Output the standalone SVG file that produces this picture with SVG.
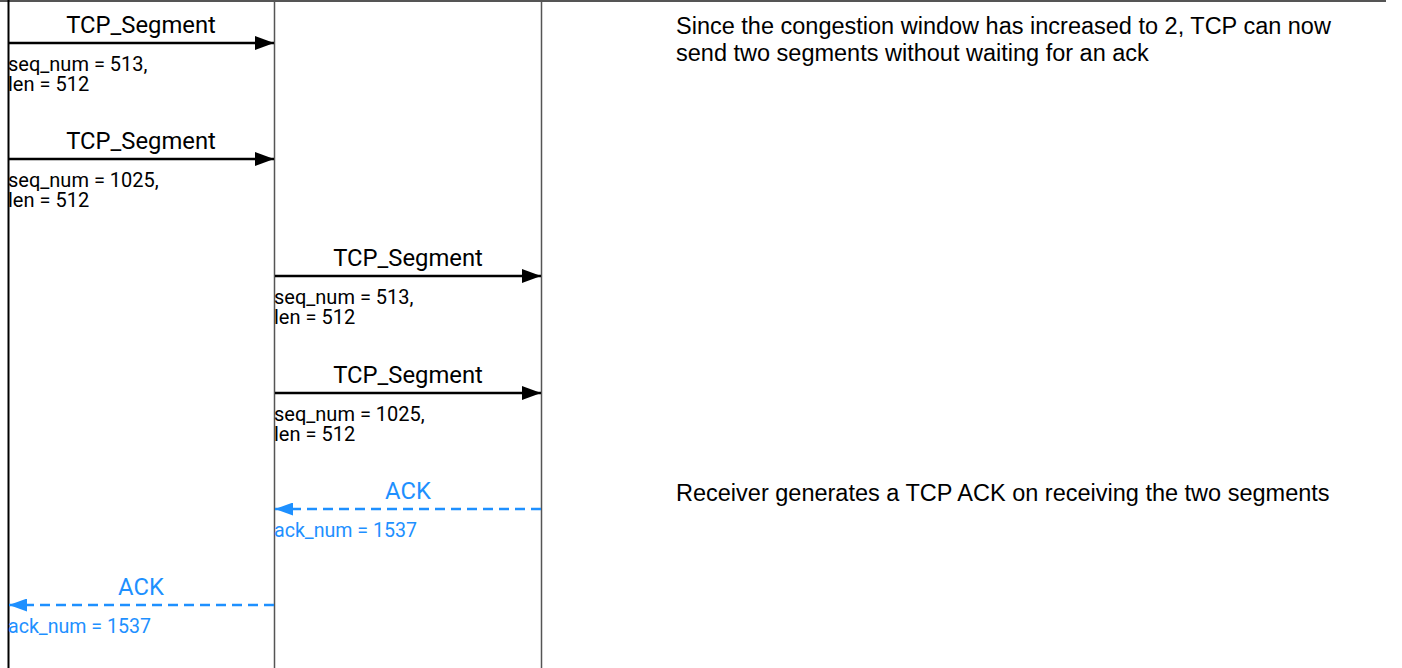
<svg xmlns="http://www.w3.org/2000/svg" width="1402" height="668" viewBox="0 0 1402 668">
  <style>
    .life { stroke: #555; stroke-width: 1.5; }
    .msg { stroke: #000; stroke-width: 2.5; fill: none; }
    .ack { stroke: #1e90ff; stroke-width: 2.5; fill: none; stroke-dasharray: 10 6; }
    .lbl { font-family: Roboto, "Liberation Sans", sans-serif; font-size: 23.8px; fill: #000; text-anchor: middle; }
    .lbl-ack { font-family: Roboto, "Liberation Sans", sans-serif; font-size: 23.8px; fill: #1e90ff; text-anchor: middle; }
    .param { font-family: Roboto, "Liberation Sans", sans-serif; font-size: 20px; fill: #000; }
    .param-ack { font-family: Roboto, "Liberation Sans", sans-serif; font-size: 19.6px; fill: #1e90ff; }
    .note { font-family: "Liberation Sans", Arial, sans-serif; font-size: 23.5px; fill: #000; }
  </style>
  <defs>
    <marker id="head" markerWidth="19" markerHeight="14" refX="19" refY="7" orient="auto" markerUnits="userSpaceOnUse">
      <path d="M0,0 L19,7 L0,14 Z" fill="#000"/>
    </marker>
    <marker id="head-ack" markerWidth="18" markerHeight="13" refX="18" refY="6.5" orient="auto" markerUnits="userSpaceOnUse">
      <path d="M0,0 L18,6.5 L0,13 Z" fill="#1e90ff"/>
    </marker>
  </defs>
  <rect width="1402" height="668" fill="#fff"/>

  <!-- header rule and lifelines -->
  <g id="lifelines">
    <line x1="0" y1="1" x2="1386" y2="1" stroke="#555" stroke-width="2"/>
    <line id="life-a" x1="8.5" y1="0" x2="8.5" y2="668" stroke="#000" stroke-width="2"/>
    <line id="life-b" class="life" x1="274.5" y1="0" x2="274.5" y2="668"/>
    <line id="life-c" class="life" x1="541.5" y1="0" x2="541.5" y2="668"/>
  </g>

  <g id="connectors">
    <line class="msg" x1="9" y1="43" x2="274" y2="43" marker-end="url(#head)"/>
    <line class="msg" x1="9" y1="159" x2="274" y2="159" marker-end="url(#head)"/>
    <line class="msg" x1="275" y1="276" x2="541" y2="276" marker-end="url(#head)"/>
    <line class="msg" x1="275" y1="393" x2="541" y2="393" marker-end="url(#head)"/>
    <line class="ack" x1="541" y1="509" x2="275" y2="509" marker-end="url(#head-ack)"/>
    <line class="ack" x1="274" y1="605" x2="9" y2="605" marker-end="url(#head-ack)"/>
  </g>

  <g id="msg1">
    <text class="lbl" x="141" y="33">TCP_Segment</text>
    <text class="param" x="8" y="71">seq_num = 513,</text>
    <text class="param" x="8" y="91">len = 512</text>
  </g>
  <g id="msg2">
    <text class="lbl" x="141" y="149">TCP_Segment</text>
    <text class="param" x="8" y="187">seq_num = 1025,</text>
    <text class="param" x="8" y="207">len = 512</text>
  </g>
  <g id="msg3">
    <text class="lbl" x="408" y="266">TCP_Segment</text>
    <text class="param" x="274" y="304">seq_num = 513,</text>
    <text class="param" x="274" y="324">len = 512</text>
  </g>
  <g id="msg4">
    <text class="lbl" x="408" y="383">TCP_Segment</text>
    <text class="param" x="274" y="421">seq_num = 1025,</text>
    <text class="param" x="274" y="441">len = 512</text>
  </g>
  <g id="ack1">
    <text class="lbl-ack" x="408" y="499">ACK</text>
    <text class="param-ack" x="274" y="537">ack_num = 1537</text>
  </g>
  <g id="ack2">
    <text class="lbl-ack" x="141" y="595">ACK</text>
    <text class="param-ack" x="8" y="633">ack_num = 1537</text>
  </g>

  <g id="note1">
    <text class="note" x="676" y="33.5">Since the congestion window has increased to 2, TCP can now</text>
    <text class="note" x="676" y="60.5">send two segments without waiting for an ack</text>
  </g>
  <g id="note2">
    <text class="note" x="676" y="501">Receiver generates a TCP ACK on receiving the two segments</text>
  </g>
</svg>
